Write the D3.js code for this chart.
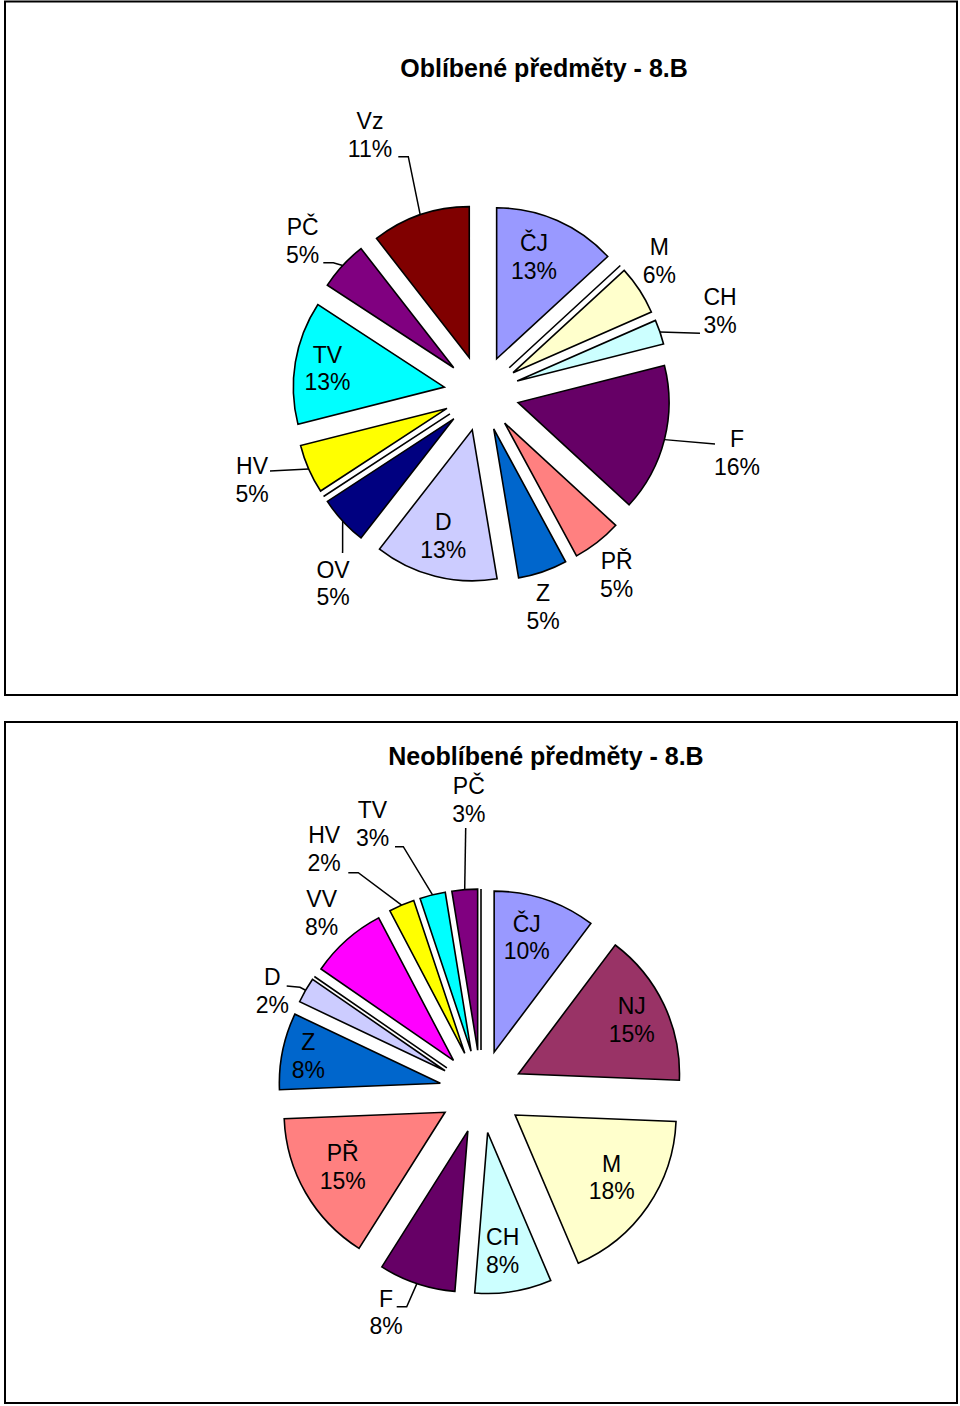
<!DOCTYPE html>
<html><head><meta charset="utf-8">
<script src="https://cdn.jsdelivr.net/npm/d3@7"></script>
<style>
html,body{margin:0;padding:0;background:#fff;}
svg{display:block;}
text{font-family:"Liberation Sans", Arial, sans-serif;fill:#000;}
</style></head><body>
<svg id="chart" width="960" height="1406"></svg>
<script>
// ---------- data ----------
const subjects = ["ČJ","NJ","M","CH","F","PŘ","Z","D","OV","VV","HV","TV","PČ","Vz"];
const colors   = ["#9999FF","#993366","#FFFFCC","#CCFFFF","#660066","#FF8080","#0066CC","#CCCCFF","#000080","#FF00FF","#FFFF00","#00FFFF","#800080","#800000"];
const favouriteCounts  = [5,0,2,1,6,2,2,5,2,0,2,5,2,4];
const favouriteLabels  = ["13%","","6%","3%","16%","5%","5%","13%","5%","","5%","13%","5%","11%"];
const unpopularCounts  = [4,6,7,3,3,6,3,1,0,3,1,1,1,0];
const unpopularLabels  = ["10%","15%","18%","8%","8%","15%","8%","2%","","8%","2%","3%","3%",""];
const titles = ["Oblíbené předměty - 8.B","Neoblíbené předměty - 8.B"];

// ---------- layout ----------
const charts = [
  { title: titles[0], values: favouriteCounts, pct: favouriteLabels,
    box:{x:5,y:1.5,w:952,h:693.5}, titleX:544, titleY:76.5,
    cx:481.5, cy:393.3, r:151, explode:37.7,
    labels:{ "ČJ":[52.5,-142.3], "M":[177.8,-138.3], "CH":[238.5,-88.3], "F":[255.5,53.7],
             "PŘ":[135.2,175.7], "Z":[61.5,207.7], "D":[-38.2,136.7], "OV":[-148.5,184.4],
             "HV":[-229.5,80.7], "TV":[-154,-30.6], "PČ":[-178.8,-158.3], "Vz":[-111.5,-264.3] },
    leaders:{ "Vz":[[28.3,27.7],[38.3,27.7]], "PČ":[[20.6,27.7],[30.6,27.7]],
              "CH":[[-20,28.3]], "F":[[-22,-3]], "HV":[[18,-3]], "OV":[[9.6,-24.7]] }
  },
  { title: titles[1], values: unpopularCounts, pct: unpopularLabels,
    box:{x:5,y:722,w:952,h:681}, titleX:546, titleY:765,
    cx:481, cy:1091.5, r:161, explode:41.5,
    labels:{ "ČJ":[45.7,-159.8], "NJ":[150.7,-77.5], "M":[130.7,80.2], "CH":[21.7,153.5],
             "F":[-95,215.2], "PŘ":[-138.3,69.5], "Z":[-172.7,-41.5], "D":[-208.7,-106.5],
             "VV":[-159.3,-184.5], "HV":[-156.8,-248.2], "TV":[-108.5,-273.2], "PČ":[-12.2,-297.5] },
    leaders:{ "PČ":[[-3.1,34]], "TV":[[22.5,28.4],[30.8,28.4]], "HV":[[24.1,29.4],[34.1,29.4]],
              "D":[[14.4,1],[27.7,2.3]], "F":[[10.7,0],[20.7,0]] }
  }
];

const svg = d3.select("#chart");
const lineGap = 27.6;

charts.forEach(c => {
  const g = svg.append("g");
  g.append("rect").attr("x",c.box.x).attr("y",c.box.y).attr("width",c.box.w).attr("height",c.box.h)
    .attr("fill","#fff").attr("stroke","#000").attr("stroke-width",2);

  g.append("text").attr("x",c.titleX).attr("y",c.titleY).attr("text-anchor","middle")
    .attr("font-size",25).attr("font-weight","bold").text(c.title);

  const rows = subjects.map((s,i)=>({name:s, value:c.values[i], color:colors[i], pct:c.pct[i]}));
  const pie = d3.pie().sort(null).value(d=>d.value);
  const arcs = pie(rows);
  const arc = d3.arc().innerRadius(0).outerRadius(c.r);

  const apex = d => {
    const m = (d.startAngle + d.endAngle)/2;
    return [c.cx + c.explode*Math.sin(m), c.cy - c.explode*Math.cos(m)];
  };
  const arcMid = d => {
    const m = (d.startAngle + d.endAngle)/2, a = apex(d);
    return [a[0] + c.r*Math.sin(m), a[1] - c.r*Math.cos(m)];
  };

  g.selectAll("path.slice").data(arcs).enter().append("path")
    .attr("class","slice")
    .attr("transform", d => { const a = apex(d); return `translate(${a[0]},${a[1]})`; })
    .attr("d", arc)
    .attr("fill", d => d.data.color)
    .attr("stroke","#000").attr("stroke-width",1.6).attr("stroke-linejoin","miter");

  // leaders
  arcs.forEach(d => {
    const L = c.leaders[d.data.name], P = c.labels[d.data.name];
    if (!L || !P) return;
    const ax = c.cx + P[0], ay = c.cy + P[1];
    const pts = L.map(p => [ax + p[0], ay + p[1]]);
    pts.push(arcMid(d));
    g.append("path").attr("d", d3.line()(pts)).attr("fill","none")
      .attr("stroke","#000").attr("stroke-width",1.5);
  });

  // labels
  arcs.forEach(d => {
    const P = c.labels[d.data.name];
    if (!P || d.data.value === 0) return;
    const t = g.append("text").attr("text-anchor","middle").attr("font-size",23);
    t.append("tspan").attr("x", c.cx + P[0]).attr("y", c.cy + P[1]).text(d.data.name);
    t.append("tspan").attr("x", c.cx + P[0]).attr("y", c.cy + P[1] + lineGap).text(d.data.pct);
  });
});
</script>
</body></html>
